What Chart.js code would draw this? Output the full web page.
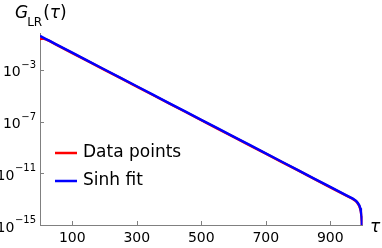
<!DOCTYPE html>
<html>
<head>
<meta charset="utf-8">
<script src="https://cdn.jsdelivr.net/npm/chart.js@4/dist/chart.umd.min.js"></script>
<style>
  html, body { margin: 0; padding: 0; background: #fff; }
  #c { display: block; }
</style>
</head>
<body>
<canvas id="c" width="382" height="248"></canvas>
<script>
// values
const tau = [0, 10, 20, 30, 50, 100, 150, 200, 250, 300, 350, 400, 450, 500, 550, 600,
  650, 700, 750, 800, 850, 900, 950, 970, 980, 985, 990, 993, 995, 997, 998, 999];
const dataPoints = [0.25, 0.27, 0.22, 0.168, 0.090, 0.0202, 4.53e-3, 1.02e-3, 2.28e-4, 5.1e-5,
  1.15e-5, 2.58e-6, 5.8e-7, 1.30e-7, 2.92e-8, 6.5e-9, 1.47e-9, 3.3e-10, 7.4e-11, 1.66e-11,
  3.7e-12, 8.3e-13, 1.87e-13, 1.03e-13, 6.9e-14, 4.8e-14, 3.0e-14, 1.8e-14, 1.1e-14,
  4.5e-15, 1.8e-15, 1.4e-16];
const sinhFit = [0.427, 0.317, 0.235, 0.174, 0.0958, 0.0215, 4.82e-3, 1.08e-3, 2.43e-4, 5.44e-5,
  1.22e-5, 2.74e-6, 6.15e-7, 1.38e-7, 3.10e-8, 6.95e-9, 1.56e-9, 3.50e-10, 7.85e-11, 1.76e-11,
  3.95e-12, 8.87e-13, 1.99e-13, 1.10e-13, 7.4e-14, 5.2e-14, 3.3e-14, 2.0e-14, 1.2e-14,
  5.0e-15, 2.0e-15, 1.6e-16];
const xTickValues = [100, 300, 500, 700, 900];
const yTickValues = [1e-15, 1e-11, 1e-7, 1e-3];
const seriesNames = ['Data points', 'Sinh fit'];

const FONT = '"DejaVu Sans", sans-serif';
const AXIS_GREY = '#808080';

function toPoints(vals) {
  return tau.map((t, i) => ({ x: t, y: vals[i] }));
}

// ticks drawn inward, y labels with superscripts, legend and title
const decor = {
  id: 'decor',
  afterDraw(chart) {
    const ctx = chart.ctx;
    const xs = chart.scales.x, ys = chart.scales.y;
    const area = chart.chartArea;
    ctx.save();

    // tick marks
    ctx.strokeStyle = AXIS_GREY;
    ctx.lineWidth = 1;
    ctx.beginPath();
    xTickValues.forEach(v => {
      const px = Math.round(xs.getPixelForValue(v)) + 0.5;
      ctx.moveTo(px, area.bottom);
      ctx.lineTo(px, area.bottom - 4);
    });
    yTickValues.forEach(v => {
      const py = Math.round(ys.getPixelForValue(v)) + 0.5;
      ctx.moveTo(area.left, py);
      ctx.lineTo(area.left + 4, py);
    });
    ctx.stroke();

    // y labels 10^n
    ctx.fillStyle = '#000';
    ctx.textBaseline = 'alphabetic';
    ctx.textAlign = 'right';
    yTickValues.forEach(v => {
      const py = ys.getPixelForValue(v);
      const exp = String(Math.round(Math.log10(v))).replace('-', '\u2212');
      ctx.font = '10px ' + FONT;
      const right = area.left - 4;
      ctx.fillText(exp, right, py - 2);
      const w = ctx.measureText(exp).width;
      ctx.font = '14px ' + FONT;
      ctx.fillText('10', right - w - 0.5, py + 6.5);
    });

    // legend
    ctx.textAlign = 'left';
    ctx.textBaseline = 'middle';
    ctx.font = '17px ' + FONT;
    chart.data.datasets.forEach((ds, i) => {
      const ly = 153 + i * 28;
      ctx.strokeStyle = ds.borderColor;
      ctx.lineWidth = 2.5;
      ctx.beginPath();
      ctx.moveTo(55, ly);
      ctx.lineTo(77, ly);
      ctx.stroke();
      ctx.fillStyle = '#000';
      ctx.fillText(ds.label, 83, ly);
    });

    // title G_LR(tau)
    ctx.textBaseline = 'alphabetic';
    let tx = 15;
    ctx.font = 'italic 17px ' + FONT;
    ctx.fillText('G', tx, 18);
    tx += ctx.measureText('G').width - 1;
    ctx.font = '12px ' + FONT;
    ctx.fillText('LR', tx, 26);
    tx += ctx.measureText('LR').width + 1;
    ctx.font = '17px ' + FONT;
    ctx.fillText('(', tx, 18);
    tx += ctx.measureText('(').width;
    ctx.font = 'italic 17px ' + FONT;
    ctx.fillText('\u03c4', tx, 18);
    tx += ctx.measureText('\u03c4').width;
    ctx.font = '17px ' + FONT;
    ctx.fillText(')', tx, 18);

    // x axis label
    ctx.font = 'italic 17px ' + FONT;
    ctx.fillText('\u03c4', 370, 232);

    ctx.restore();
  }
};

new Chart(document.getElementById('c'), {
  type: 'line',
  data: {
    datasets: [
      {
        label: seriesNames[0],
        data: toPoints(dataPoints),
        borderColor: '#ff0000',
        borderWidth: 2.5,
        pointRadius: 0,
        fill: false,
        order: 1
      },
      {
        label: seriesNames[1],
        data: toPoints(sinhFit),
        borderColor: '#0000ff',
        borderWidth: 2.5,
        pointRadius: 0,
        fill: false,
        order: 0
      }
    ]
  },
  options: {
    responsive: false,
    animation: false,
    devicePixelRatio: 1,
    layout: { padding: { top: 33, right: 19.5, left: 0, bottom: 0 } },
    plugins: { legend: { display: false }, tooltip: { enabled: false } },
    scales: {
      x: {
        type: 'linear',
        min: 0,
        max: 1000,
        afterBuildTicks: s => { s.ticks = xTickValues.map(v => ({ value: v })); },
        afterFit: s => { s.height = 23; },
        ticks: { color: '#000', font: { family: FONT, size: 14 }, padding: 5, maxRotation: 0 },
        grid: { display: false, drawTicks: false },
        border: { display: true, color: AXIS_GREY, width: 1 }
      },
      y: {
        type: 'logarithmic',
        min: 1e-15,
        max: 0.72,
        afterBuildTicks: s => { s.ticks = yTickValues.map(v => ({ value: v })); },
        afterFit: s => { s.width = 40; },
        ticks: { display: false },
        grid: { display: false, drawTicks: false },
        border: { display: true, color: AXIS_GREY, width: 1 }
      }
    }
  },
  plugins: [decor]
});
</script>
</body>
</html>
